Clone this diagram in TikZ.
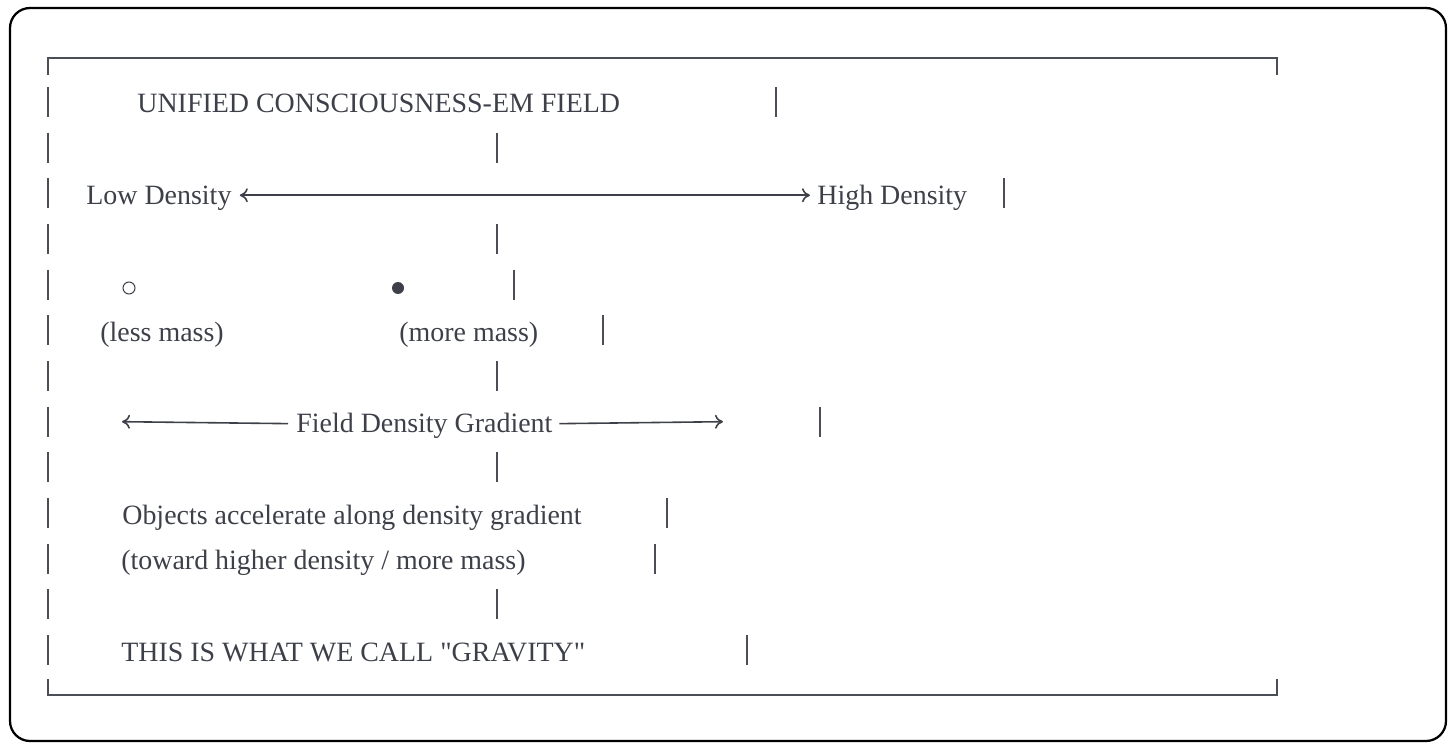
\documentclass[tikz,border=0pt]{standalone}
\usepackage{fontspec}
\setmainfont{Liberation Serif}
\usepackage{tikz}
\usetikzlibrary{arrows.meta}
\usepackage{xcolor}
\definecolor{ink}{HTML}{3D4049}
\definecolor{rule}{HTML}{4B4E56}

\tikzset{
  txt/.style={anchor=base west, inner xsep=1mm, inner ysep=0pt, text=ink,
    font=\fontsize{15.9}{18}\selectfont},
  bar/.style={draw=rule, line width=0.4mm},
  arr/.style={draw=ink, line width=0.32mm},
}

\begin{document}
\begin{tikzpicture}[x=0.2mm, y=-0.2mm, >={To[length=1.6mm,width=2.8mm]}]
    \useasboundingbox (0,0) rectangle (1456,743);
    \draw[line width=0.45mm, rounded corners=4mm] (10,8) rectangle (1446,741);
    % frame drawn with box characters
    \draw[bar] (48,75) -- (48,58) -- (1277,58) -- (1277,75);
    \draw[bar] (48,679) -- (48,695) -- (1277,695) -- (1277,679);
    \foreach \k in {0,...,12}
        \draw[bar] (48,{87+45.67*\k}) -- ++(0,30);
    \foreach \x/\k in {776/0,497/1,1004/2,497/3,514/4,603/5,497/6,820/7,497/8,667/9,655/10,497/11,747/12}
        \draw[bar] (\x,{87+45.67*\k}) -- ++(0,30);
    % text rows
    \node[txt] (title) at (132,113) {UNIFIED CONSCIOUSNESS-EM FIELD};
    \node[txt] (low) at (81,204.3) {Low Density};
    \node[txt] (high) at (812,204.3) {High Density};
    \draw[arr,<->,shorten <=0.6mm,shorten >=0.4mm] ([yshift=1mm]low.mid east) -- ([yshift=1mm]high.mid west);
    \node[circle, draw=ink, line width=0.2mm, minimum size=2.4mm, inner sep=0] (light) at (129,288) {};
    \node[circle, fill=ink, minimum size=2.4mm, inner sep=0] (heavy) at (398,288) {};
    \node[txt] (lessm) at (95,341.4) {(less mass)};
    \node[txt] (morem) at (394,341.4) {(more mass)};
    \node[txt] (grad) at (291,432.7) {Field Density Gradient};
    \coordinate (gl) at (122,421.7);
    \coordinate (gr) at (723,421.7);
    \draw[arr,->,shorten <=0.6mm] ([yshift=1mm]grad.mid west) -- (gl);
    \draw[arr,->,shorten <=0.3mm] ([yshift=1mm]grad.mid east) -- (gr);
    \node[txt] (accel) at (117,524) {Objects accelerate along density gradient};
    \node[txt] (toward) at (116,569.7) {(toward higher density / more mass)};
    \node[txt] (gravity) at (116,661) {THIS IS WHAT WE CALL \textquotedbl GRAVITY\textquotedbl};
\end{tikzpicture}
\end{document}
